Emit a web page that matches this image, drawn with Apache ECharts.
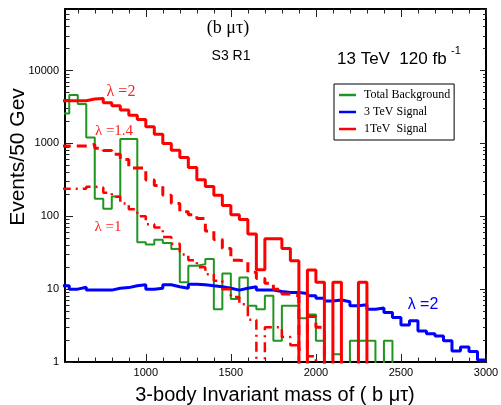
<!DOCTYPE html>
<html>
<head>
<meta charset="utf-8">
<script src="https://cdn.jsdelivr.net/npm/echarts@6/dist/echarts.min.js"></script>
<style>
html, body { margin: 0; padding: 0; background: #fff; }
#main { width: 501px; height: 405px; }
</style>
</head>
<body>
<div id="main"></div>
<script>
// 50 GeV bins, low edges
var binLow = [500, 550, 600, 650, 700, 750, 800, 850, 900, 950,
              1000, 1050, 1100, 1150, 1200, 1250, 1300, 1350, 1400, 1450,
              1500, 1550, 1600, 1650, 1700, 1750, 1800, 1850, 1900, 1950,
              2000, 2050, 2100, 2150, 2200, 2250, 2300, 2350, 2400, 2450,
              2500, 2550, 2600, 2650, 2700, 2750, 2800, 2850, 2900, 2950];
var xMajor = [1000, 1500, 2000, 2500, 3000];

// events per bin (0 = empty bin)
var background = [2580, 4610, 3470, 1205, 174, 127, 187, 1153, 1153, 44,
                  41, 47.5, 43, 35.6, 12.4, 21, 22, 26, 5.3, 16.4,
                  7.3, 14.5, 5.9, 5.3, 8.1, 1.95, 5.9, 5.9, 4.0, 4.5,
                  1.95, 0, 1.28, 0, 1.95, 1.95, 1.95, 0, 1.95, 0,
                  0, 0, 0, 0, 0, 0, 0, 0, 0, 0];
var signal3TeV = [11.1, 10.0, 10.6, 9.7, 9.7, 9.7, 10.3, 10.5, 11.1, 11.5,
                  10.0, 10.3, 11.5, 10.8, 10.3, 11.7, 11.5, 11.1, 10.8, 10.3,
                  9.7, 10.3, 10.8, 9.7, 9.7, 9.3, 9.0, 9.0, 8.7, 8.1,
                  7.5, 6.9, 7.1, 6.7, 5.9, 6.1, 5.3, 5.5, 4.77, 4.07,
                  3.23, 3.67, 2.67, 2.45, 2.28, 1.95, 1.42, 1.61, 1.39, 1.065];
var signal1TeV_lam2 = [3850, 3850, 3850, 4060, 4150, 3610, 3280, 2870, 2440, 2130,
                       1690, 1340, 1000, 806, 640, 466, 318, 257, 194, 141,
                       105, 90, 57, 18.5, 49, 49, 36, 24.6, 0, 18.3,
                       12.4, 0, 12.4, 0, 0, 12.4, 0, 0, 0, 0,
                       0, 0, 0, 0, 0, 0, 0, 0, 0, 0];
var signal1TeV_lam14 = [925, 925, 925, 970, 860, 800, 710, 600, 460, 460,
                        315, 265, 194, 150, 115, 105, 93, 63, 48, 36,
                        25, 24, 17, 14, 12, 10, 8.6, 8.1, 1.5, 4.2,
                        3.0, 0, 0, 0, 0, 0, 0, 0, 0, 0,
                        0, 0, 0, 0, 0, 0, 0, 0, 0, 0];
var signal1TeV_lam1 = [238, 238, 238, 255, 248, 210, 185, 150, 125, 100,
                       78, 70, 52, 42, 30, 25, 20, 16, 13, 10,
                       7.8, 6.2, 3.8, 0, 3.0, 3.0, 2.2, 1.7, 0, 1.2,
                       0, 0, 0, 0, 0, 0, 0, 0, 0, 0,
                       0, 0, 0, 0, 0, 0, 0, 0, 0, 0];

var xMin = 525, xMax = 3000, yMax = 70000;

// histogram as step line; empty bins pushed below the axis
function steps(vals) {
    var pts = [];
    for (var i = 0; i < binLow.length; i++) {
        pts.push([binLow[i], vals[i] > 0 ? vals[i] : 0.01]);
    }
    pts.push([xMax, pts[pts.length - 1][1]]);
    return pts;
}

// minor tick positions
var xMinor = [];
for (var t = 600; t < 3000; t += 100) if (t % 500 !== 0) xMinor.push(t);
var yMinor = [];
for (var d = 0; d <= 4; d++) {
    for (var k = 2; k <= 9; k++) {
        if (k * Math.pow(10, d) < yMax) yMinor.push(Math.log10(k * Math.pow(10, d)));
    }
}
var yTop = Math.log10(yMax);

var sans = 'Liberation Sans', serif = 'Liberation Serif';
var tickStyle = { color: '#222', width: 1 };

function xAx(pos, vals, len, line, labels) {
    return {
        type: 'value', position: pos, min: xMin, max: xMax,
        axisLine: { show: line, lineStyle: { color: '#000', width: 2 } },
        axisTick: { inside: true, length: len, customValues: vals, lineStyle: tickStyle },
        axisLabel: labels ? { customValues: xMajor, margin: 5, color: '#000', fontSize: 11, fontFamily: sans,
                              formatter: function (v) { return String(v); } } : { show: false },
        splitLine: { show: false }
    };
}

var myChart = echarts.init(document.getElementById('main'));
var option = {
    animation: false,
    backgroundColor: '#fff',
    grid: { left: 65, right: 15, top: 9, bottom: 43, outerBoundsMode: 'none' },
    legend: {
        orient: 'vertical', left: 334, top: 84,
        padding: [5, 4, 5, 5], itemGap: 5, itemWidth: 17, itemHeight: 2.5,
        borderColor: '#000', borderWidth: 1, backgroundColor: '#fff',
        selectedMode: false,
        textStyle: { fontFamily: serif, fontSize: 12, color: '#000', padding: [0, 0, 0, 3] },
        data: [
            { name: 'Total Background', icon: 'rect' },
            { name: '3 TeV Signal', icon: 'rect' },
            { name: '1TeV  Signal', icon: 'rect' }
        ]
    },
    xAxis: [
        xAx('bottom', xMajor, 8, true, true),
        xAx('bottom', xMinor, 4.5, false, false),
        xAx('top', xMajor, 8, true, false),
        xAx('top', xMinor, 4.5, false, false)
    ],
    yAxis: [
        {
            type: 'log', logBase: 10, min: 1, max: yMax, position: 'left',
            axisLine: { show: true, lineStyle: { color: '#000', width: 2 } },
            axisTick: { inside: true, length: 8, lineStyle: tickStyle },
            axisLabel: { showMaxLabel: false, margin: 6, color: '#000', fontSize: 11, fontFamily: sans,
                         formatter: function (v) { return String(Math.round(v)); } },
            splitLine: { show: false }
        },
        {
            type: 'value', min: 0, max: yTop, position: 'left',
            axisLine: { show: false },
            axisTick: { inside: true, length: 4.5, customValues: yMinor, lineStyle: tickStyle },
            axisLabel: { show: false }, splitLine: { show: false }
        },
        {
            type: 'log', logBase: 10, min: 1, max: yMax, position: 'right',
            axisLine: { show: true, lineStyle: { color: '#000', width: 2 } },
            axisTick: { inside: true, length: 6, lineStyle: tickStyle },
            axisLabel: { show: false }, splitLine: { show: false }
        },
        {
            type: 'value', min: 0, max: yTop, position: 'right',
            axisLine: { show: false },
            axisTick: { inside: true, length: 3, customValues: yMinor, lineStyle: tickStyle },
            axisLabel: { show: false }, splitLine: { show: false }
        }
    ],
    series: [
        {
            name: 'Total Background', type: 'line', step: 'end', showSymbol: false,
            data: steps(background), color: '#1f961f',
            lineStyle: { color: '#1f961f', width: 2 }
        },
        {
            name: '3 TeV Signal', type: 'line', step: 'end', showSymbol: false,
            data: steps(signal3TeV), color: '#0000ff',
            lineStyle: { color: '#0000ff', width: 3 }
        },
        {
            name: '1TeV  Signal', type: 'line', step: 'end', showSymbol: false,
            data: steps(signal1TeV_lam2), color: '#ff0000',
            lineStyle: { color: '#ff0000', width: 3 }
        },
        {
            name: '1TeV  Signal', type: 'line', step: 'end', showSymbol: false,
            data: steps(signal1TeV_lam14), color: '#ff0000',
            lineStyle: { color: '#ff0000', width: 3, type: [10, 6] }
        },
        {
            name: '1TeV  Signal', type: 'line', step: 'end', showSymbol: false,
            data: steps(signal1TeV_lam1), color: '#ff0000',
            lineStyle: { color: '#ff0000', width: 2.5, type: [10, 5, 2, 5] }
        }
    ],
    graphic: [
        { type: 'text', x: 18, y: 157, rotation: Math.PI / 2,
          style: { text: 'Events/50 Gev', font: '21px ' + sans, fill: '#000', align: 'center', verticalAlign: 'middle' } },
        { type: 'text', x: 275, y: 395,
          style: { text: '3-body Invariant mass of ( b \u03bc\u03c4)', font: '20px ' + sans, fill: '#000', align: 'center', verticalAlign: 'middle' } },
        { type: 'text', x: 228, y: 28,
          style: { text: '(b \u03bc\u03c4)', font: '18px ' + serif, fill: '#000', align: 'center', verticalAlign: 'middle' } },
        { type: 'text', x: 231, y: 56,
          style: { text: 'S3 R1', font: '14px ' + sans, fill: '#000', align: 'center', verticalAlign: 'middle' } },
        { type: 'text', x: 337, y: 59,
          style: { text: '13 TeV  120 fb', font: '17px ' + sans, fill: '#000', align: 'left', verticalAlign: 'middle' } },
        { type: 'text', x: 451, y: 51,
          style: { text: '-1', font: '11px ' + sans, fill: '#000', align: 'left', verticalAlign: 'middle' } },
        { type: 'text', x: 121, y: 92,
          style: { text: '\u03bb =2', font: '16px ' + serif, fill: '#ff2020', align: 'center', verticalAlign: 'middle' } },
        { type: 'text', x: 114, y: 131,
          style: { text: '\u03bb =1.4', font: '15px ' + serif, fill: '#ff2020', align: 'center', verticalAlign: 'middle' } },
        { type: 'text', x: 108, y: 227,
          style: { text: '\u03bb =1', font: '15px ' + serif, fill: '#ff2020', align: 'center', verticalAlign: 'middle' } },
        { type: 'text', x: 423, y: 305,
          style: { text: '\u03bb =2', font: '16px ' + sans, fill: '#0000ff', align: 'center', verticalAlign: 'middle' } }
    ]
};
myChart.setOption(option);
</script>
</body>
</html>
